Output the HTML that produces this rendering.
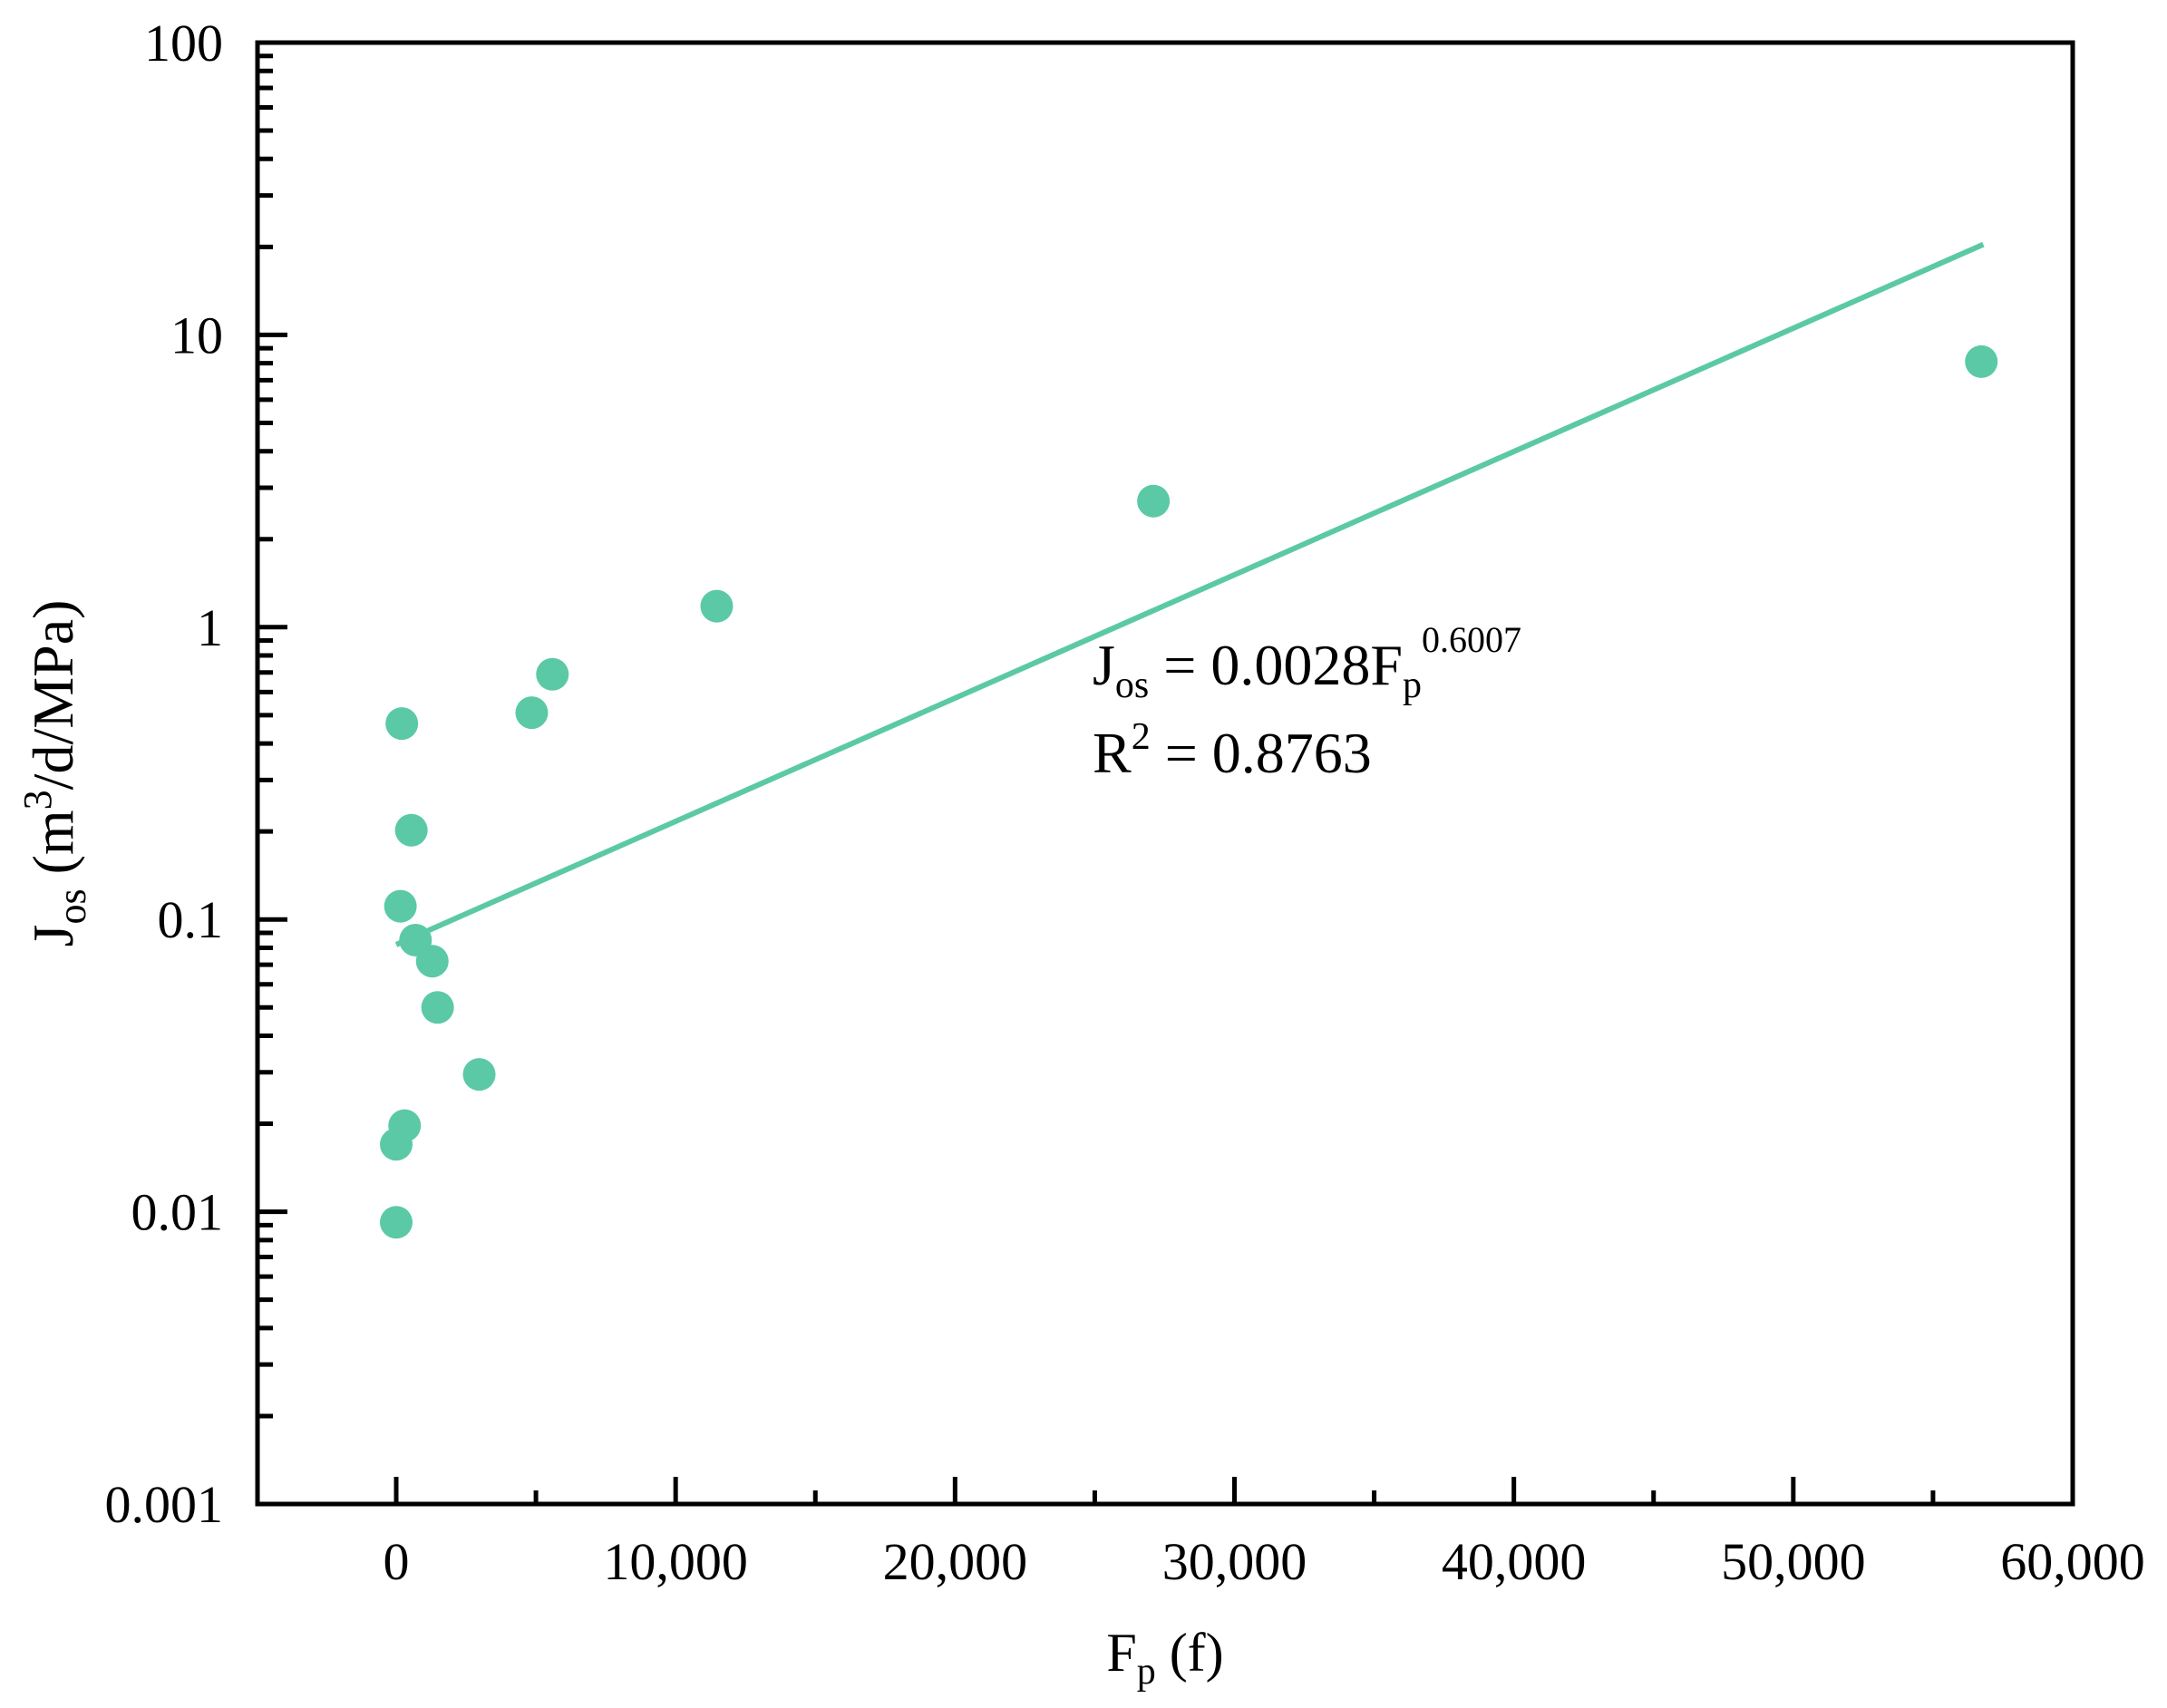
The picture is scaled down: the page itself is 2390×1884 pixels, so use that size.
<!DOCTYPE html>
<html><head><meta charset="utf-8"><style>
html,body{margin:0;padding:0;background:#fff;}
svg{display:block;font-family:"Liberation Serif",serif;}
</style></head><body>
<svg id="chart" width="2390" height="1884" viewBox="0 0 2390 1884" xmlns="http://www.w3.org/2000/svg">
<g id="grid-layer"></g>
<g id="marks"></g>
<text x="1205" y="755" font-size="64">J<tspan font-size="42" dy="14">os</tspan><tspan dy="-14"> = 0.0028F</tspan><tspan font-size="42" dy="14">p</tspan><tspan font-size="40" dy="-50">0.6007</tspan></text>
<text x="1205" y="852" font-size="64">R<tspan font-size="42" dy="-26">2</tspan><tspan dy="26"> = 0.8763</tspan></text>
<text x="1285" y="1843" font-size="60" text-anchor="middle">F<tspan font-size="42" dy="14">p</tspan><tspan dy="-14"> (f)</tspan></text>
<text transform="translate(80,853) rotate(-90)" font-size="64" text-anchor="middle">J<tspan font-size="44" dy="14">os</tspan><tspan dy="-14"> (m</tspan><tspan font-size="44" dy="-24">3</tspan><tspan dy="24">/d/MPa)</tspan></text>
</svg>
<script>
const pointX = [0, 0, 300, 2970, 1480, 1290, 690, 150, 540, 200, 4850, 5590, 11470, 27100, 56730];
const pointY = [0.0092, 0.017, 0.0197, 0.0295, 0.050, 0.072, 0.085, 0.111, 0.202, 0.468, 0.51, 0.69, 1.18, 2.70, 8.1];
const fitX = [0, 56800];
const fitY = [0.082, 20.4];
const xTicks = [0, 10000, 20000, 30000, 40000, 50000, 60000];
const xTickLabels = ["0", "10,000", "20,000", "30,000", "40,000", "50,000", "60,000"];
const yTicks = [0.001, 0.01, 0.1, 1, 10, 100];
const yTickLabels = ["0.001", "0.01", "0.1", "1", "10", "100"];

const L = 284, R = 2286, T = 47, B = 1659;
const XMAX = 60000;
function xs(v){ return 437 + (v) * (R - 437) / XMAX; }
function ys(v){ return B - (Math.log10(v) + 3) * (B - T) / 5; }
const NS = "http://www.w3.org/2000/svg";
function mk(tag, attrs, parent){ const e = document.createElementNS(NS, tag); for (const k in attrs) e.setAttribute(k, attrs[k]); parent.appendChild(e); return e; }
const ax = document.getElementById('grid-layer');
const mg = document.getElementById('marks');

const frame = mk('rect', {x:L, y:T, width:R-L, height:B-T, fill:'none', stroke:'#000', 'stroke-width':5}, ax);



xTicks.forEach((t, i) => {
  const x = xs(t);
  const tk = mk('line', {x1:x, x2:x, y1:B, y2:B-30, stroke:'#000', 'stroke-width':5}, ax);
  
  
  if (i < xTicks.length - 1) {
    const mx = xs(t + 5000);
    const mt = mk('line', {x1:mx, x2:mx, y1:B, y2:B-15, stroke:'#000', 'stroke-width':5}, ax);
    
    
  }
  const lb = mk('text', {x:x, y:1742, 'font-size':58, 'text-anchor':'middle'}, ax);
  lb.textContent = xTickLabels[i];
  
  
});

yTicks.forEach((t, i) => {
  const y = ys(t);
  const tk = mk('line', {x1:L, x2:L+33, y1:y, y2:y, stroke:'#000', 'stroke-width':5}, ax);
  
  
  if (i < yTicks.length - 1) {
    for (let m = 2; m <= 9; m++) {
      const my = ys(t * m);
      const mt = mk('line', {x1:L, x2:L+17, y1:my, y2:my, stroke:'#000', 'stroke-width':5}, ax);
      
      
    }
  }
  const lb = mk('text', {x:246, y:y+20, 'font-size':58, 'text-anchor':'end'}, ax);
  lb.textContent = yTickLabels[i];
  
  
});

const fit = mk('line', {x1:xs(fitX[0]), y1:ys(fitY[0]), x2:xs(fitX[1]), y2:ys(fitY[1]), stroke:'#5bc9a6', 'stroke-width':6}, mg);



pointX.forEach((v, i) => {
  const c = mk('circle', {cx:xs(v), cy:ys(pointY[i]), r:18, fill:'#5bc9a6'}, mg);
  
  
});
</script>
</body></html>
